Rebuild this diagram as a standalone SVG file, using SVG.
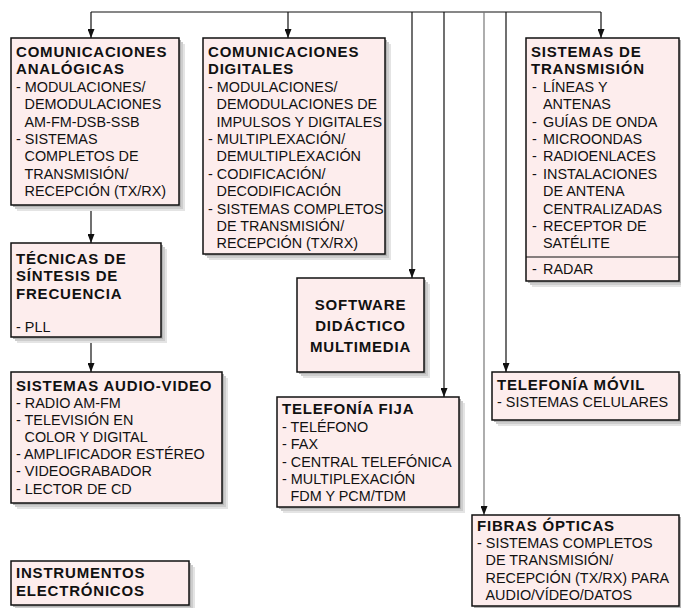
<svg xmlns="http://www.w3.org/2000/svg" width="681" height="608" viewBox="0 0 681 608">
  <style>
    .box { fill: #fdeded; stroke: #111; stroke-width: 1.5; }
    .sh1 { fill: #e4e4e4; }
    .sh2 { fill: #cdcdcd; }
    .sh3 { fill: #b3b3b3; }
    .t { font-family: "Liberation Sans", Arial, sans-serif; font-size: 14.4px; fill: #111; }
    .b { font-weight: bold; font-size: 15px; letter-spacing: 0.8px; }
    .c { text-anchor: middle; }
    .link { stroke: #111; stroke-width: 1.2; fill: none; }
    .grey { stroke: #777; }
  </style>
  <defs>
    <marker id="arrowDown" markerWidth="7" markerHeight="9" refX="3.5" refY="9" orient="0" markerUnits="userSpaceOnUse" viewBox="0 0 7 9">
      <path d="M0,0 L7,0 L3.5,9 Z" fill="#111"/>
    </marker>
  </defs>

  <!-- connectors: distribution bus with drops -->
  <g id="connectors">
    <path class="link" d="M91,12 H601"/>
    <path class="link" d="M91,12 V38" marker-end="url(#arrowDown)"/>
    <path class="link" d="M288,12 V38" marker-end="url(#arrowDown)"/>
    <path class="link" d="M412,12 V278" marker-end="url(#arrowDown)"/>
    <path class="link" d="M444,12 V397" marker-end="url(#arrowDown)"/>
    <path class="link grey" d="M484,12 V515" marker-end="url(#arrowDown)"/>
    <path class="link" d="M506,12 V372" marker-end="url(#arrowDown)"/>
    <path class="link" d="M601,12 V38" marker-end="url(#arrowDown)"/>
    <path class="link" d="M91,205 V243" marker-end="url(#arrowDown)"/>
    <path class="link" d="M91,337 V372" marker-end="url(#arrowDown)"/>
  </g>

  <g id="comunicaciones-analogicas">
    <rect class="sh1" x="17" y="44" width="168" height="167"/>
    <rect class="sh2" x="15" y="42" width="168" height="167"/>
    <rect class="sh3" x="13" y="40" width="168" height="167"/>
    <rect class="box" x="11" y="38" width="168" height="167"/>
    <text class="t b" x="16" y="57">COMUNICACIONES</text>
    <text class="t b" x="16" y="74.4">ANALÓGICAS</text>
    <text class="t">
      <tspan x="16" y="91.8">- MODULACIONES/</tspan>
      <tspan x="24.5" y="109.2">DEMODULACIONES</tspan>
      <tspan x="24.5" y="126.6">AM-FM-DSB-SSB</tspan>
      <tspan x="16" y="144">- SISTEMAS</tspan>
      <tspan x="24.5" y="161.4">COMPLETOS DE</tspan>
      <tspan x="24.5" y="178.8">TRANSMISIÓN/</tspan>
      <tspan x="24.5" y="196.2">RECEPCIÓN (TX/RX)</tspan>
    </text>
  </g>

  <g id="comunicaciones-digitales">
    <rect class="sh1" x="209" y="44" width="182" height="216"/>
    <rect class="sh2" x="207" y="42" width="182" height="216"/>
    <rect class="sh3" x="205" y="40" width="182" height="216"/>
    <rect class="box" x="203" y="38" width="182" height="216"/>
    <text class="t b" x="208" y="57">COMUNICACIONES</text>
    <text class="t b" x="208" y="74.4">DIGITALES</text>
    <text class="t">
      <tspan x="208" y="91.8">- MODULACIONES/</tspan>
      <tspan x="216.5" y="109.2">DEMODULACIONES DE</tspan>
      <tspan x="216.5" y="126.6">IMPULSOS Y DIGITALES</tspan>
      <tspan x="208" y="144">- MULTIPLEXACIÓN/</tspan>
      <tspan x="216.5" y="161.4">DEMULTIPLEXACIÓN</tspan>
      <tspan x="208" y="178.8">- CODIFICACIÓN/</tspan>
      <tspan x="216.5" y="196.2">DECODIFICACIÓN</tspan>
      <tspan x="208" y="213.6">- SISTEMAS COMPLETOS</tspan>
      <tspan x="216.5" y="231">DE TRANSMISIÓN/</tspan>
      <tspan x="216.5" y="248.4">RECEPCIÓN (TX/RX)</tspan>
    </text>
  </g>

  <g id="sistemas-transmision">
    <rect class="sh1" x="532" y="44" width="153" height="243"/>
    <rect class="sh2" x="530" y="42" width="153" height="243"/>
    <rect class="sh3" x="528" y="40" width="153" height="243"/>
    <rect class="box" x="526" y="38" width="153" height="243"/>
    <line class="link" x1="526" y1="257" x2="679" y2="257"/>
    <text class="t b" x="531" y="57">SISTEMAS DE</text>
    <text class="t b" x="531" y="74.4">TRANSMISIÓN</text>
    <text class="t">
      <tspan x="532" y="91.8">-</tspan><tspan x="543" y="91.8">LÍNEAS Y</tspan>
      <tspan x="543" y="109.2">ANTENAS</tspan>
      <tspan x="532" y="126.6">-</tspan><tspan x="543" y="126.6">GUÍAS DE ONDA</tspan>
      <tspan x="532" y="144">-</tspan><tspan x="543" y="144">MICROONDAS</tspan>
      <tspan x="532" y="161.4">-</tspan><tspan x="543" y="161.4">RADIOENLACES</tspan>
      <tspan x="532" y="178.8">-</tspan><tspan x="543" y="178.8">INSTALACIONES</tspan>
      <tspan x="543" y="196.2">DE ANTENA</tspan>
      <tspan x="543" y="213.6">CENTRALIZADAS</tspan>
      <tspan x="532" y="231">-</tspan><tspan x="543" y="231">RECEPTOR DE</tspan>
      <tspan x="543" y="248.4">SATÉLITE</tspan>
      <tspan x="532" y="274">-</tspan><tspan x="543" y="274">RADAR</tspan>
    </text>
  </g>

  <g id="tecnicas-sintesis">
    <rect class="sh1" x="17" y="249" width="150" height="94"/>
    <rect class="sh2" x="15" y="247" width="150" height="94"/>
    <rect class="sh3" x="13" y="245" width="150" height="94"/>
    <rect class="box" x="11" y="243" width="150" height="94"/>
    <text class="t b" x="16" y="263.5">TÉCNICAS DE</text>
    <text class="t b" x="16" y="281">SÍNTESIS DE</text>
    <text class="t b" x="16" y="298.5">FRECUENCIA</text>
    <text class="t" x="16" y="332">- PLL</text>
  </g>

  <g id="sistemas-audio-video">
    <rect class="sh1" x="17" y="378" width="211" height="131"/>
    <rect class="sh2" x="15" y="376" width="211" height="131"/>
    <rect class="sh3" x="13" y="374" width="211" height="131"/>
    <rect class="box" x="11" y="372" width="211" height="131"/>
    <text class="t b" x="16" y="390.5">SISTEMAS AUDIO-VIDEO</text>
    <text class="t">
      <tspan x="16" y="407.5">- RADIO AM-FM</tspan>
      <tspan x="16" y="424.7">- TELEVISIÓN EN</tspan>
      <tspan x="24.5" y="441.9">COLOR Y DIGITAL</tspan>
      <tspan x="16" y="459.1">- AMPLIFICADOR ESTÉREO</tspan>
      <tspan x="16" y="476.3">- VIDEOGRABADOR</tspan>
      <tspan x="16" y="493.5">- LECTOR DE CD</tspan>
    </text>
  </g>

  <g id="software-didactico">
    <rect class="sh1" x="303" y="284" width="127" height="94"/>
    <rect class="sh2" x="301" y="282" width="127" height="94"/>
    <rect class="sh3" x="299" y="280" width="127" height="94"/>
    <rect class="box" x="297" y="278" width="127" height="94"/>
    <text class="t b c" x="360.5" y="310">SOFTWARE</text>
    <text class="t b c" x="360.5" y="330.5">DIDÁCTICO</text>
    <text class="t b c" x="360.5" y="351.5">MULTIMEDIA</text>
  </g>

  <g id="telefonia-fija">
    <rect class="sh1" x="283" y="403" width="182" height="110"/>
    <rect class="sh2" x="281" y="401" width="182" height="110"/>
    <rect class="sh3" x="279" y="399" width="182" height="110"/>
    <rect class="box" x="277" y="397" width="182" height="110"/>
    <text class="t b" x="282" y="414.3">TELEFONÍA FIJA</text>
    <text class="t">
      <tspan x="282" y="431.7">- TELÉFONO</tspan>
      <tspan x="282" y="449.1">- FAX</tspan>
      <tspan x="282" y="466.5">- CENTRAL TELEFÓNICA</tspan>
      <tspan x="282" y="483.9">- MULTIPLEXACIÓN</tspan>
      <tspan x="290.5" y="501.3">FDM Y PCM/TDM</tspan>
    </text>
  </g>

  <g id="telefonia-movil">
    <rect class="sh1" x="498" y="378" width="187" height="48"/>
    <rect class="sh2" x="496" y="376" width="187" height="48"/>
    <rect class="sh3" x="494" y="374" width="187" height="48"/>
    <rect class="box" x="492" y="372" width="187" height="48"/>
    <text class="t b" x="497" y="390">TELEFONÍA MÓVIL</text>
    <text class="t" x="497" y="407">- SISTEMAS CELULARES</text>
  </g>

  <g id="fibras-opticas">
    <rect class="sh1" x="478" y="521" width="207" height="91"/>
    <rect class="sh2" x="476" y="519" width="207" height="91"/>
    <rect class="sh3" x="474" y="517" width="207" height="91"/>
    <rect class="box" x="472" y="515" width="207" height="91"/>
    <text class="t b" x="477" y="530.5">FIBRAS ÓPTICAS</text>
    <text class="t">
      <tspan x="477" y="548">- SISTEMAS COMPLETOS</tspan>
      <tspan x="485.5" y="565.4">DE TRANSMISIÓN/</tspan>
      <tspan x="485.5" y="582.8">RECEPCIÓN (TX/RX) PARA</tspan>
      <tspan x="485.5" y="600.2">AUDIO/VÍDEO/DATOS</tspan>
    </text>
  </g>

  <g id="instrumentos-electronicos">
    <rect class="sh1" x="17" y="567" width="178" height="44"/>
    <rect class="sh2" x="15" y="565" width="178" height="44"/>
    <rect class="sh3" x="13" y="563" width="178" height="44"/>
    <rect class="box" x="11" y="561" width="178" height="44"/>
    <text class="t b" x="16" y="578.3">INSTRUMENTOS</text>
    <text class="t b" x="16" y="596">ELECTRÓNICOS</text>
  </g>
</svg>
